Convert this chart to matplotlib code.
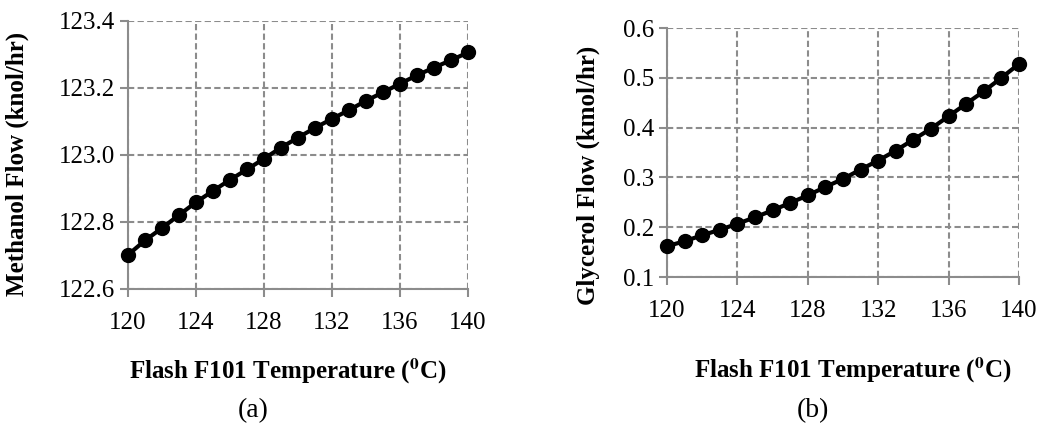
import matplotlib.pyplot as plt

# Flash temperature (degC)
temp = [120, 121, 122, 123, 124, 125, 126, 127, 128, 129, 130,
        131, 132, 133, 134, 135, 136, 137, 138, 139, 140]

# Methanol flow (kmol/hr)
methanol = [122.702, 122.745, 122.782, 122.821, 122.859, 122.893, 122.926,
            122.957, 122.989, 123.022, 123.052, 123.081, 123.108, 123.134,
            123.162, 123.187, 123.213, 123.238, 123.261, 123.283, 123.306]

# Glycerol flow (kmol/hr)
glycerol = [0.162, 0.172, 0.184, 0.195, 0.207, 0.220, 0.234, 0.249, 0.264,
            0.281, 0.297, 0.316, 0.334, 0.354, 0.376, 0.398, 0.423, 0.448,
            0.473, 0.500, 0.528]

x_ticks = [120, 124, 128, 132, 136, 140]

plt.rcParams['font.family'] = ['Liberation Serif', 'DejaVu Serif']
plt.rcParams['mathtext.fontset'] = 'stix'

fig = plt.figure(figsize=(10.52, 4.25), dpi=100)
ax1 = fig.add_axes([0.1217, 0.32, 0.3232, 0.6306])
ax2 = fig.add_axes([0.634, 0.348, 0.3346, 0.586])

grid_col = '#8c8c8c'

def style(ax, ylim, yticks, yfmt):
    ax.set_xlim(120, 140)
    ax.set_ylim(*ylim)
    ax.set_xticks(x_ticks)
    ax.set_yticks(yticks)
    ax.set_yticklabels([yfmt.format(v) for v in yticks])
    ax.grid(True, color=grid_col, linestyle=(0, (3, 1.6)), linewidth=1.5)
    for s in ['top', 'right']:
        ax.spines[s].set_visible(False)
    for s in ['left', 'bottom']:
        ax.spines[s].set_color(grid_col)
        ax.spines[s].set_linewidth(1.5)
    ax.tick_params(colors=grid_col, labelcolor='black', labelsize=18,
                   length=5.5, width=1.5)
    ax.tick_params(axis='x', pad=11)
    ax.tick_params(axis='y', pad=4)
    ax.set_axisbelow(True)

ax1.plot(temp, methanol, color='black', linewidth=3, marker='o',
         markersize=10, clip_on=False, zorder=3)
style(ax1, (122.6, 123.4), [122.6, 122.8, 123.0, 123.2, 123.4], '{:.1f}')
ax1.set_ylabel('Methanol Flow (knol/hr)', fontsize=18, fontweight='bold',
               va='center')
ax1.yaxis.set_label_coords(-0.326, 0.465)

ax2.plot(temp, glycerol, color='black', linewidth=3, marker='o',
         markersize=10, clip_on=False, zorder=3)
style(ax2, (0.1, 0.6), [0.1, 0.2, 0.3, 0.4, 0.5, 0.6], '{:.1f}')
ax2.set_ylabel('Glycerol Flow (kmol/hr)', fontsize=18, fontweight='bold',
               va='center')
ax2.yaxis.set_label_coords(-0.224, 0.41)

fig.text(0.273, 0.127, r'Flash F101 Temperature ($^{\mathbf{0}}$C)',
         ha='center', va='center', fontsize=18, fontweight='bold')
fig.text(0.811, 0.13, r'Flash F101 Temperature ($^{\mathbf{0}}$C)',
         ha='center', va='center', fontsize=18, fontweight='bold')
fig.text(0.2405, 0.035, '(a)', ha='center', va='center', fontsize=20)
fig.text(0.773, 0.035, '(b)', ha='center', va='center', fontsize=20)

fig.savefig('out.png', dpi=100)
